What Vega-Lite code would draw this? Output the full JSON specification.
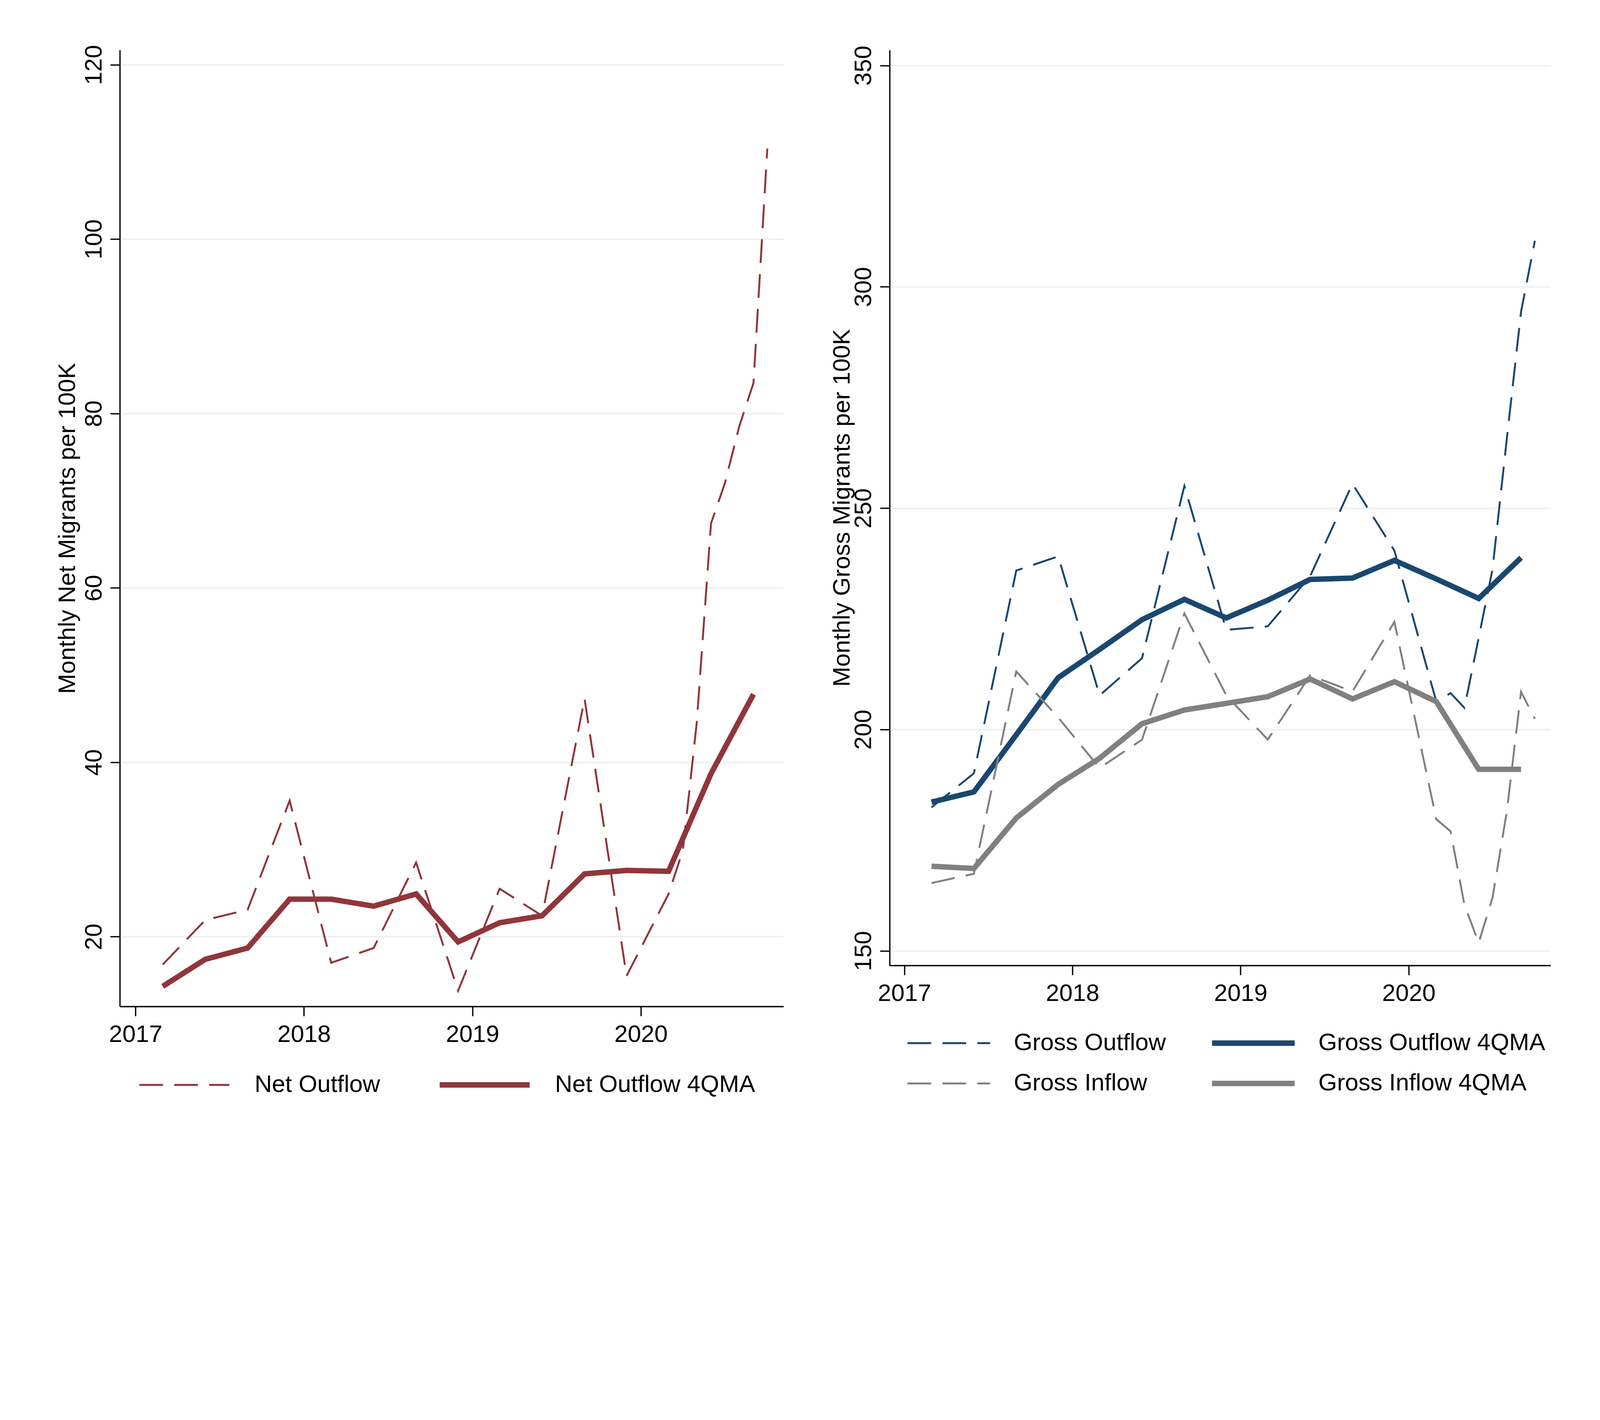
{
  "$schema": "https://vega.github.io/schema/vega-lite/v6.json",
  "background": "white",
  "autosize": {"type": "pad"},
  "padding": {"left": 142.7, "top": 114, "right": 128.7, "bottom": 154},
  "spacing": 119.7,
  "config": {
    "font": "Liberation Sans",
    "view": {"stroke": null},
    "axis": {
      "domainColor": "black", "domainWidth": 3.3,
      "tickColor": "black", "tickWidth": 3.3, "tickSize": 24.6,
      "labelFont": "Liberation Sans", "labelFontSize": 61.5, "labelColor": "black",
      "titleFont": "Liberation Sans", "titleFontSize": 61.5, "titleFontWeight": "normal", "titleColor": "black",
      "gridColor": "#EAF1F3", "gridWidth": 4.1,
      "labelOverlap": false
    },
    "axisX": {"grid": false, "labelPadding": 17.2, "labelFlush": false},
    "axisY": {
      "grid": true, "labelAngle": 270, "labelAlign": "center", "labelBaseline": "alphabetic",
      "labelPadding": 23, "titleAngle": 270, "titleBaseline": "alphabetic"
    },
    "legend": {
      "title": null, "orient": "none", "direction": "horizontal", "columns": 2,
      "symbolType": "stroke", "clipHeight": 82, "padding": 0,
      "labelFont": "Liberation Sans", "labelFontSize": 61.5, "labelColor": "black", "labelLimit": 3000
    }
  },
  "datasets": {
    "net": [
      {"date": "2017-03-01", "series": "Net Outflow", "value": 16.8},
      {"date": "2017-06-01", "series": "Net Outflow", "value": 21.9},
      {"date": "2017-09-01", "series": "Net Outflow", "value": 23.1},
      {"date": "2017-12-01", "series": "Net Outflow", "value": 35.6},
      {"date": "2018-03-01", "series": "Net Outflow", "value": 17.0},
      {"date": "2018-06-01", "series": "Net Outflow", "value": 18.7},
      {"date": "2018-09-01", "series": "Net Outflow", "value": 28.5},
      {"date": "2018-12-01", "series": "Net Outflow", "value": 13.8},
      {"date": "2019-03-01", "series": "Net Outflow", "value": 25.5},
      {"date": "2019-06-01", "series": "Net Outflow", "value": 22.4},
      {"date": "2019-09-01", "series": "Net Outflow", "value": 47.3},
      {"date": "2019-12-01", "series": "Net Outflow", "value": 15.5},
      {"date": "2020-03-01", "series": "Net Outflow", "value": 24.9},
      {"date": "2020-04-01", "series": "Net Outflow", "value": 29.9},
      {"date": "2020-05-01", "series": "Net Outflow", "value": 44.5},
      {"date": "2020-06-01", "series": "Net Outflow", "value": 67.4},
      {"date": "2020-07-01", "series": "Net Outflow", "value": 72.0},
      {"date": "2020-08-01", "series": "Net Outflow", "value": 78.5},
      {"date": "2020-09-01", "series": "Net Outflow", "value": 83.5},
      {"date": "2020-10-01", "series": "Net Outflow", "value": 110.4},
      {"date": "2017-03-01", "series": "Net Outflow 4QMA", "value": 14.3},
      {"date": "2017-06-01", "series": "Net Outflow 4QMA", "value": 17.4},
      {"date": "2017-09-01", "series": "Net Outflow 4QMA", "value": 18.7},
      {"date": "2017-12-01", "series": "Net Outflow 4QMA", "value": 24.3},
      {"date": "2018-03-01", "series": "Net Outflow 4QMA", "value": 24.3},
      {"date": "2018-06-01", "series": "Net Outflow 4QMA", "value": 23.5},
      {"date": "2018-09-01", "series": "Net Outflow 4QMA", "value": 24.9},
      {"date": "2018-12-01", "series": "Net Outflow 4QMA", "value": 19.4},
      {"date": "2019-03-01", "series": "Net Outflow 4QMA", "value": 21.6},
      {"date": "2019-06-01", "series": "Net Outflow 4QMA", "value": 22.4},
      {"date": "2019-09-01", "series": "Net Outflow 4QMA", "value": 27.2},
      {"date": "2019-12-01", "series": "Net Outflow 4QMA", "value": 27.6},
      {"date": "2020-03-01", "series": "Net Outflow 4QMA", "value": 27.5},
      {"date": "2020-06-01", "series": "Net Outflow 4QMA", "value": 38.7},
      {"date": "2020-09-01", "series": "Net Outflow 4QMA", "value": 47.8}
    ],
    "gross": [
      {"date": "2017-03-01", "series": "Gross Outflow", "value": 182.4},
      {"date": "2017-06-01", "series": "Gross Outflow", "value": 190.1},
      {"date": "2017-09-01", "series": "Gross Outflow", "value": 235.9},
      {"date": "2017-12-01", "series": "Gross Outflow", "value": 239.1},
      {"date": "2018-03-01", "series": "Gross Outflow", "value": 207.7},
      {"date": "2018-06-01", "series": "Gross Outflow", "value": 216.1},
      {"date": "2018-09-01", "series": "Gross Outflow", "value": 255.0},
      {"date": "2018-12-01", "series": "Gross Outflow", "value": 222.5},
      {"date": "2019-03-01", "series": "Gross Outflow", "value": 223.3},
      {"date": "2019-06-01", "series": "Gross Outflow", "value": 234.6},
      {"date": "2019-09-01", "series": "Gross Outflow", "value": 255.5},
      {"date": "2019-12-01", "series": "Gross Outflow", "value": 240.4},
      {"date": "2020-03-01", "series": "Gross Outflow", "value": 206.3},
      {"date": "2020-04-01", "series": "Gross Outflow", "value": 208.2},
      {"date": "2020-05-01", "series": "Gross Outflow", "value": 204.9},
      {"date": "2020-06-01", "series": "Gross Outflow", "value": 220.7},
      {"date": "2020-07-01", "series": "Gross Outflow", "value": 236.2},
      {"date": "2020-08-01", "series": "Gross Outflow", "value": 265.6},
      {"date": "2020-09-01", "series": "Gross Outflow", "value": 294.4},
      {"date": "2020-10-01", "series": "Gross Outflow", "value": 310.4},
      {"date": "2017-03-01", "series": "Gross Outflow 4QMA", "value": 183.6},
      {"date": "2017-06-01", "series": "Gross Outflow 4QMA", "value": 185.9},
      {"date": "2017-09-01", "series": "Gross Outflow 4QMA", "value": 198.8},
      {"date": "2017-12-01", "series": "Gross Outflow 4QMA", "value": 211.7},
      {"date": "2018-03-01", "series": "Gross Outflow 4QMA", "value": 218.1},
      {"date": "2018-06-01", "series": "Gross Outflow 4QMA", "value": 224.8},
      {"date": "2018-09-01", "series": "Gross Outflow 4QMA", "value": 229.4},
      {"date": "2018-12-01", "series": "Gross Outflow 4QMA", "value": 225.2},
      {"date": "2019-03-01", "series": "Gross Outflow 4QMA", "value": 229.2},
      {"date": "2019-06-01", "series": "Gross Outflow 4QMA", "value": 233.9},
      {"date": "2019-09-01", "series": "Gross Outflow 4QMA", "value": 234.2},
      {"date": "2019-12-01", "series": "Gross Outflow 4QMA", "value": 238.2},
      {"date": "2020-03-01", "series": "Gross Outflow 4QMA", "value": 234.0},
      {"date": "2020-06-01", "series": "Gross Outflow 4QMA", "value": 229.6},
      {"date": "2020-09-01", "series": "Gross Outflow 4QMA", "value": 238.8},
      {"date": "2017-03-01", "series": "Gross Inflow", "value": 165.3},
      {"date": "2017-06-01", "series": "Gross Inflow", "value": 167.4},
      {"date": "2017-09-01", "series": "Gross Inflow", "value": 213.1},
      {"date": "2017-12-01", "series": "Gross Inflow", "value": 202.7},
      {"date": "2018-03-01", "series": "Gross Inflow", "value": 191.3},
      {"date": "2018-06-01", "series": "Gross Inflow", "value": 197.7},
      {"date": "2018-09-01", "series": "Gross Inflow", "value": 226.2},
      {"date": "2018-12-01", "series": "Gross Inflow", "value": 207.7},
      {"date": "2019-03-01", "series": "Gross Inflow", "value": 197.7},
      {"date": "2019-06-01", "series": "Gross Inflow", "value": 212.2},
      {"date": "2019-09-01", "series": "Gross Inflow", "value": 208.6},
      {"date": "2019-12-01", "series": "Gross Inflow", "value": 224.3},
      {"date": "2020-03-01", "series": "Gross Inflow", "value": 179.7},
      {"date": "2020-04-01", "series": "Gross Inflow", "value": 177.0},
      {"date": "2020-05-01", "series": "Gross Inflow", "value": 160.4},
      {"date": "2020-06-01", "series": "Gross Inflow", "value": 151.8},
      {"date": "2020-07-01", "series": "Gross Inflow", "value": 162.0},
      {"date": "2020-08-01", "series": "Gross Inflow", "value": 181.4},
      {"date": "2020-09-01", "series": "Gross Inflow", "value": 208.5},
      {"date": "2020-10-01", "series": "Gross Inflow", "value": 202.4},
      {"date": "2017-03-01", "series": "Gross Inflow 4QMA", "value": 169.1},
      {"date": "2017-06-01", "series": "Gross Inflow 4QMA", "value": 168.6},
      {"date": "2017-09-01", "series": "Gross Inflow 4QMA", "value": 180.0},
      {"date": "2017-12-01", "series": "Gross Inflow 4QMA", "value": 187.6},
      {"date": "2018-03-01", "series": "Gross Inflow 4QMA", "value": 193.5},
      {"date": "2018-06-01", "series": "Gross Inflow 4QMA", "value": 201.3},
      {"date": "2018-09-01", "series": "Gross Inflow 4QMA", "value": 204.4},
      {"date": "2018-12-01", "series": "Gross Inflow 4QMA", "value": 205.9},
      {"date": "2019-03-01", "series": "Gross Inflow 4QMA", "value": 207.4},
      {"date": "2019-06-01", "series": "Gross Inflow 4QMA", "value": 211.4},
      {"date": "2019-09-01", "series": "Gross Inflow 4QMA", "value": 206.9},
      {"date": "2019-12-01", "series": "Gross Inflow 4QMA", "value": 210.8},
      {"date": "2020-03-01", "series": "Gross Inflow 4QMA", "value": 206.3},
      {"date": "2020-06-01", "series": "Gross Inflow 4QMA", "value": 191.0},
      {"date": "2020-09-01", "series": "Gross Inflow 4QMA", "value": 191.0}
    ]
  },
  "resolve": {
    "scale": {"color": "independent", "strokeDash": "independent", "strokeWidth": "independent"},
    "legend": {"color": "independent", "strokeDash": "independent", "strokeWidth": "independent"}
  },
  "hconcat": [
    {
      "width": 1699,
      "height": 2449,
      "data": {"name": "net"},
      "mark": {"type": "line"},
      "encoding": {
        "x": {
          "field": "date", "type": "temporal",
          "scale": {"type": "utc", "domain": [
            {"year": 2016, "month": 11, "date": 28, "utc": true},
            {"year": 2020, "month": 11, "date": 5, "utc": true}
          ]},
          "axis": {"title": null, "format": "%Y", "values": [
            {"year": 2017, "utc": true}, {"year": 2018, "utc": true},
            {"year": 2019, "utc": true}, {"year": 2020, "utc": true}
          ]}
        },
        "y": {
          "field": "value", "type": "quantitative",
          "scale": {"domain": [12.0, 121.7], "nice": false, "zero": false},
          "axis": {"title": "Monthly Net Migrants per 100K", "titleX": -114.8, "values": [20, 40, 60, 80, 100, 120]}
        },
        "color": {
          "field": "series", "type": "nominal",
          "scale": {"domain": ["Net Outflow", "Net Outflow 4QMA"], "range": ["#90353B", "#90353B"]},
          "legend": {"legendX": 42.6, "legendY": 2609, "symbolSize": 53084, "labelOffset": 57.4, "columnPadding": 145}
        },
        "strokeDash": {
          "field": "series", "type": "nominal",
          "scale": {"domain": ["Net Outflow", "Net Outflow 4QMA"], "range": [[60.7, 28.7], [1, 0]]},
          "legend": {"legendX": 42.6, "legendY": 2609, "symbolSize": 53084, "labelOffset": 57.4, "columnPadding": 145}
        },
        "strokeWidth": {
          "field": "series", "type": "nominal",
          "scale": {"type": "ordinal", "domain": ["Net Outflow", "Net Outflow 4QMA"], "range": [4.9, 13.9]},
          "legend": {"legendX": 42.6, "legendY": 2609, "symbolSize": 53084, "labelOffset": 57.4, "columnPadding": 145}
        }
      }
    },
    {
      "width": 1692,
      "height": 2344,
      "data": {"name": "gross"},
      "mark": {"type": "line"},
      "encoding": {
        "x": {
          "field": "date", "type": "temporal",
          "scale": {"type": "utc", "domain": [
            {"year": 2016, "month": 11, "date": 30, "utc": true},
            {"year": 2020, "month": 11, "date": 4, "utc": true}
          ]},
          "axis": {"title": null, "format": "%Y", "values": [
            {"year": 2017, "utc": true}, {"year": 2018, "utc": true},
            {"year": 2019, "utc": true}, {"year": 2020, "utc": true}
          ]}
        },
        "y": {
          "field": "value", "type": "quantitative",
          "scale": {"domain": [146.7, 353.5], "nice": false, "zero": false},
          "axis": {"title": "Monthly Gross Migrants per 100K", "titleX": -102.5, "values": [150, 200, 250, 300, 350]}
        },
        "color": {
          "field": "series", "type": "nominal",
          "scale": {"domain": ["Gross Outflow", "Gross Outflow 4QMA", "Gross Inflow", "Gross Inflow 4QMA"], "range": ["#1A476F", "#1A476F", "#808080", "#808080"]},
          "legend": {"legendX": 38.5, "legendY": 2502, "symbolSize": 44774, "labelOffset": 53.3, "columnPadding": 110.7, "rowPadding": 21.3}
        },
        "strokeDash": {
          "field": "series", "type": "nominal",
          "scale": {"domain": ["Gross Outflow", "Gross Outflow 4QMA", "Gross Inflow", "Gross Inflow 4QMA"], "range": [[60.7, 28.7], [1, 0], [60.7, 28.7], [1, 0]]},
          "legend": {"legendX": 38.5, "legendY": 2502, "symbolSize": 44774, "labelOffset": 53.3, "columnPadding": 110.7, "rowPadding": 21.3}
        },
        "strokeWidth": {
          "field": "series", "type": "nominal",
          "scale": {"type": "ordinal", "domain": ["Gross Outflow", "Gross Outflow 4QMA", "Gross Inflow", "Gross Inflow 4QMA"], "range": [4.9, 13.9, 4.9, 13.9]},
          "legend": {"legendX": 38.5, "legendY": 2502, "symbolSize": 44774, "labelOffset": 53.3, "columnPadding": 110.7, "rowPadding": 21.3}
        }
      }
    }
  ]
}
